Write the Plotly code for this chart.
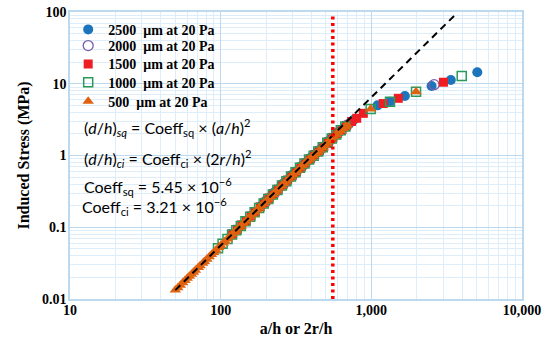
import plotly.graph_objects as go

# ---------------- data ----------------
s2500_x = [190, 204, 219, 235, 252, 270, 290, 311, 333, 357, 383, 410, 440, 471, 505, 541, 580, 621, 666, 714, 765,
           1100, 1330, 1670, 2510, 3370, 5050]
s2500_y = [0.208, 0.241, 0.279, 0.323, 0.372, 0.429, 0.497, 0.57, 0.65, 0.75, 0.86, 0.98, 1.11, 1.27, 1.47, 1.69, 1.93, 2.19, 2.48, 2.80, 3.15,
           5.0, 5.6, 6.75, 9.3, 11.3, 14.5]

s2000_x = [200, 230, 262, 300, 345, 395, 455, 520, 600, 690, 2610]
s2000_y = [0.231, 0.308, 0.403, 0.533, 0.70, 0.91, 1.18, 1.56, 2.07, 2.64, 9.7]

s1500_x = [120, 129, 138, 148, 159, 170, 183, 196, 210, 225, 241, 259, 278, 298, 319, 342, 367, 393, 421, 452, 484, 519,
           556, 596, 639, 685, 740, 800, 885, 1200, 1510, 3010]
s1500_y = [0.0808, 0.0937, 0.108, 0.124, 0.144, 0.166, 0.193, 0.222, 0.256, 0.295, 0.340, 0.394, 0.456, 0.526, 0.60, 0.69, 0.79, 0.90, 1.03, 1.17, 1.34, 1.55,
           1.79, 2.04, 2.30, 2.60, 2.98, 3.3, 3.87, 5.3, 6.27, 10.5]

s1000_x = [96, 103, 111, 119, 127, 136, 146, 157, 168, 180, 193, 207, 222, 238, 255, 273, 293, 314, 336, 360, 386, 414,
           444, 476, 510, 546, 585, 627, 672, 990, 1330, 1980, 3980]
s1000_y = [0.0510, 0.0589, 0.0688, 0.0794, 0.0908, 0.1045, 0.121, 0.1405, 0.1615, 0.186, 0.215, 0.248, 0.287, 0.331, 0.3815, 0.439, 0.508, 0.586, 0.673, 0.776, 0.88, 0.99,
           1.14, 1.30, 1.50, 1.72, 1.96, 2.24, 2.53, 4.45, 5.6, 7.75, 12.8]

s500_x = [50, 52, 54, 56, 58, 60, 62, 64, 66, 68, 71, 73, 76, 78, 81, 84, 87, 90, 93, 97, 100, 104, 107, 111, 115, 119,
          123, 127, 132, 136, 141, 146, 151, 157, 162, 168, 174, 180, 186, 193, 200, 207, 214, 222, 229, 237, 245, 254,
          263, 272, 282, 292, 302, 313, 324, 335, 347, 359, 372, 385, 398, 412, 427, 442, 457, 473, 490, 507, 525, 543,
          562, 582, 603, 624, 646, 669, 692, 990, 1980]
s500_y = [0.0133, 0.0144, 0.0156, 0.0168, 0.0181, 0.0194, 0.0207, 0.0221, 0.0236, 0.0251, 0.0274, 0.0290, 0.0315, 0.0332, 0.0359, 0.0387, 0.0416, 0.0446, 0.0478, 0.0521, 0.0555, 0.0602, 0.0638, 0.0688, 0.0740, 0.0794,
          0.0850, 0.0908, 0.0983, 0.1045, 0.113, 0.121, 0.130, 0.1405, 0.150, 0.1615, 0.174, 0.186, 0.199, 0.215, 0.231, 0.248, 0.266, 0.287, 0.306, 0.328, 0.351, 0.378,
          0.407, 0.436, 0.469, 0.503, 0.541, 0.581, 0.625, 0.668, 0.719, 0.770, 0.830, 0.875, 0.925, 0.99, 1.06, 1.12, 1.19, 1.28, 1.38, 1.48, 1.59, 1.70,
          1.83, 1.96, 2.09, 2.22, 2.36, 2.50, 2.65, 4.45, 7.75]

fit_x = [50, 3540]
fit_y = [0.0133, 88]

limit_x = [555, 555]
limit_y = [0.01, 90]

series_names = ["2500\u00a0\u00a0μm at 20 Pa", "2000\u00a0\u00a0μm at 20 Pa", "1500\u00a0\u00a0μm at 20 Pa",
                "1000\u00a0\u00a0μm at 20 Pa", "500\u00a0\u00a0μm at 20 Pa"]

x_title = "a/h or 2r/h"
y_title = "Induced Stress (MPa)"

eq_lines = [
    "(<i>d</i>/<i>h</i>)<sub><i>sq</i></sub> = Coeff<sub>sq</sub> × (<i>a</i>/<i>h</i>)<sup>2</sup>",
    "(<i>d</i>/<i>h</i>)<sub><i>ci</i></sub> = Coeff<sub>ci</sub> × (2<i>r</i>/<i>h</i>)<sup>2</sup>",
    "Coeff<sub>sq</sub> = 5.45 × 10<sup>−6</sup>",
    "Coeff<sub>ci</sub> = 3.21 × 10<sup>−6</sup>",
]

# ---------------- figure ----------------
BLUE = "#1C75BC"
PURPLE = "#7A5BA8"
RED = "#EE1D23"
GREEN = "#2A9A5A"
ORANGE = "#E0620F"

series = [
    (s2500_x, s2500_y, dict(symbol="circle", size=10, color=BLUE, line=dict(width=0))),
    (s2000_x, s2000_y, dict(symbol="circle-open", size=10, color=PURPLE, line=dict(width=1.3))),
    (s1500_x, s1500_y, dict(symbol="square", size=9, color=RED, line=dict(width=0))),
    (s1000_x, s1000_y, dict(symbol="square-open", size=9, color=GREEN, line=dict(width=1.5))),
    (s500_x, s500_y, dict(symbol="triangle-up", size=10, color=ORANGE, line=dict(width=0))),
]
legend_ids = ["legend2", "legend3", "legend4", "legend5", "legend6"]

fig = go.Figure()
for (sx, sy, mk), nm, lg in zip(series, series_names, legend_ids):
    fig.add_trace(go.Scatter(x=sx, y=sy, mode="markers", name=nm, marker=mk, legend=lg))

fig.add_trace(go.Scatter(x=fit_x, y=fit_y, mode="lines", showlegend=False,
                         line=dict(color="black", width=2, dash="7px,5px")))
fig.add_trace(go.Scatter(x=limit_x, y=limit_y, mode="lines", showlegend=False,
                         line=dict(color="#FF0000", width=3.5, dash="3px,3.5px")))

ys = [0.596, 0.491, 0.392, 0.322]
xs = [0.027, 0.027, 0.027, 0.022]
for i, txt in enumerate(eq_lines):
    fig.add_annotation(xref="paper", yref="paper", x=xs[i], y=ys[i], xanchor="left", yanchor="middle",
                       text=txt, showarrow=False,
                       font=dict(family="Lato", size=16, color="black"))

MAJOR = "#BDD9F0"
MINOR = "#DDEDF9"
TICKFONT = dict(family="Liberation Serif", size=14, color="black", weight="bold")

fig.update_xaxes(type="log", range=[1, 4], dtick=1, tickformat=",", automargin=False,
                 showgrid=True, gridcolor=MAJOR, gridwidth=1,
                 minor=dict(dtick="D1", showgrid=True, gridcolor=MINOR, gridwidth=1),
                 showline=True, linecolor=MAJOR, linewidth=1.5, mirror=True,
                 zeroline=False, ticks="", ticklen=0, ticklabelstandoff=-3, tickfont=TICKFONT,
                 title=dict(text=x_title, font=dict(family="Liberation Serif", size=16, color="black", weight="bold"),
                            standoff=6))
fig.update_yaxes(type="log", range=[-2, 2], dtick=1, automargin=False,
                 showgrid=True, gridcolor=MAJOR, gridwidth=1,
                 minor=dict(dtick="D1", showgrid=True, gridcolor=MINOR, gridwidth=1),
                 showline=True, linecolor=MAJOR, linewidth=1.5, mirror=True,
                 zeroline=False, ticks="", ticklen=0, ticklabelstandoff=-1, tickfont=TICKFONT,
                 title=dict(text=y_title, font=dict(family="Liberation Serif", size=16, color="black", weight="bold"),
                            standoff=8))

legend_rows = [0.9380, 0.8815, 0.8178, 0.7537, 0.6875]
legend_style = dict(x=-0.004, xanchor="left", yanchor="middle", bgcolor="rgba(0,0,0,0)",
                    font=dict(family="Liberation Serif", size=14, color="black", weight="bold"),
                    itemwidth=30, borderwidth=0)
layout_legends = {lg: dict(y=yy, **legend_style) for lg, yy in zip(legend_ids, legend_rows)}

fig.update_layout(
    width=550, height=352,
    margin=dict(l=70, r=28, t=12, b=53),
    paper_bgcolor="white", plot_bgcolor="white",
    showlegend=True,
    **layout_legends,
)

fig.write_html("out.html", config={"displayModeBar": False},
               post_script="document.body.style.margin='0';document.body.style.padding='0';document.body.style.overflow='hidden';")
